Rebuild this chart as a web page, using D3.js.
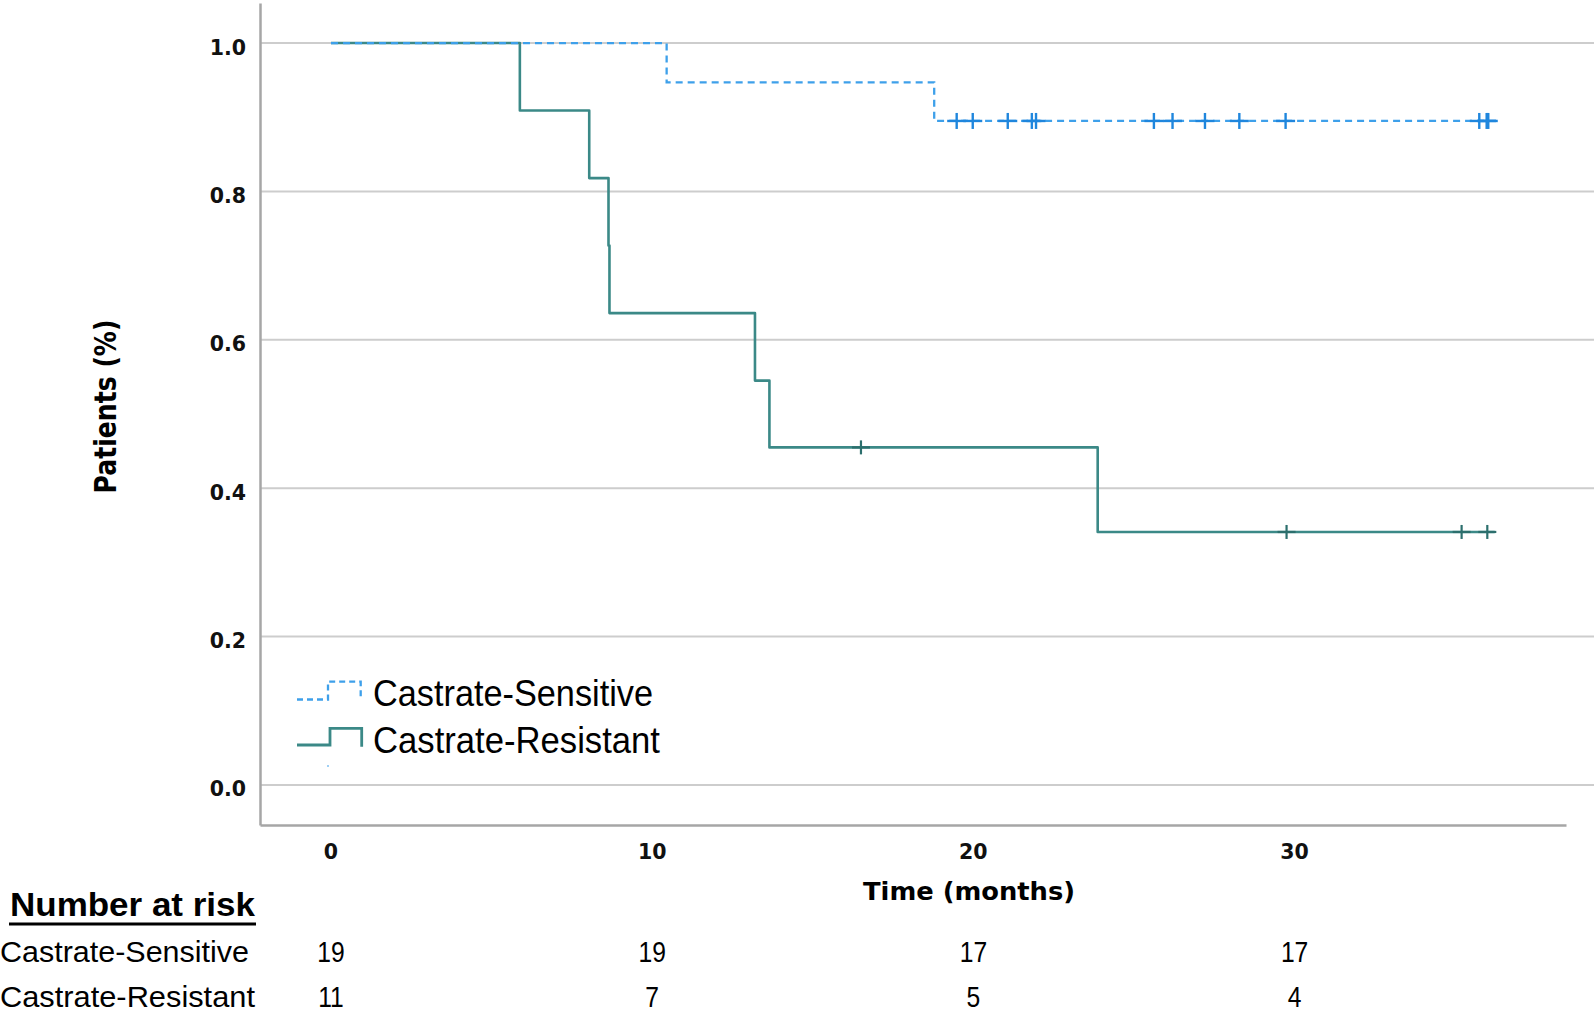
<!DOCTYPE html>
<html>
<head>
<meta charset="utf-8">
<script src="https://cdn.jsdelivr.net/npm/d3@7/dist/d3.min.js"></script>
<style>
  html, body { margin: 0; padding: 0; background: #ffffff; }
  svg { display: block; }
</style>
</head>
<body>
<svg id="chart" width="1594" height="1015"></svg>
<script>
// ---------------- DATA ----------------
const groupNames = ["Castrate-Sensitive", "Castrate-Resistant"];

const timeTicks = [0, 10, 20, 30];
const survivalTicks = [0.0, 0.2, 0.4, 0.6, 0.8, 1.0];
const survivalTickLabels = ["0.0", "0.2", "0.4", "0.6", "0.8", "1.0"];

// Castrate-Sensitive: event times (months) and survival after each event
const sensitiveEventTimes = [10.45, 18.78];
const sensitiveSurvival = [0.947, 0.895];
const sensitiveCensorTimes = [19.48, 19.98, 21.07, 21.82, 21.95, 25.62, 26.2, 27.21, 28.28, 29.72, 35.75, 35.98, 36.03];
const sensitiveEndTime = 36.29;

// Castrate-Resistant
const resistantEventTimes = [5.88, 8.04, 8.64, 8.67, 13.2, 13.65, 23.87];
const resistantSurvival = [0.909, 0.818, 0.727, 0.636, 0.545, 0.455, 0.341];
const resistantCensorTimes = [16.5, 29.75, 35.2, 36.0];
const resistantEndTime = 36.23;

// Number at risk
const riskTimes = [0, 10, 20, 30];
const sensitiveAtRisk = [19, 19, 17, 17];
const resistantAtRisk = [11, 7, 5, 4];

// ---------------- CHART ----------------
const svg = d3.select("#chart");
const colSens = "#3ea0ea";
const colSensMark = "#1f86dd";
const colRes = "#3b8987";
const colResMark = "#2c6f6d";

const x = d3.scaleLinear().domain([-2.21, 38.45]).range([260, 1566]);
const y = d3.scaleLinear().domain([-0.054, 1.054]).range([825, 3]);

// gridlines
svg.append("g").selectAll("line").data(survivalTicks).join("line")
  .attr("x1", x.range()[0]).attr("x2", 1594)
  .attr("y1", d => y(d)).attr("y2", d => y(d))
  .attr("stroke", "#cdcdcd").attr("stroke-width", 2);

// axes (lines only, no ticks)
const yAxis = d3.axisLeft(y).tickValues([]).tickSizeOuter(0);
svg.append("g").attr("transform", `translate(${x.range()[0]},0)`).call(yAxis)
  .call(g => g.select(".domain").attr("stroke", "#a6a6a6").attr("stroke-width", 2.5));
const xAxis = d3.axisBottom(x).tickValues([]).tickSizeOuter(0);
svg.append("g").attr("transform", `translate(0,${y.range()[0]})`).call(xAxis)
  .call(g => g.select(".domain").attr("stroke", "#a6a6a6").attr("stroke-width", 2.5));

// y tick labels
svg.append("g").selectAll("text").data(survivalTicks).join("text")
  .attr("x", 246).attr("y", d => y(d) + 11.5)
  .attr("text-anchor", "end")
  .attr("font-family", "DejaVu Sans").attr("font-weight", "bold")
  .attr("font-size", 20.5).attr("fill", "#111")
  .text((d, i) => survivalTickLabels[i]);

// x tick labels
svg.append("g").selectAll("text").data(timeTicks).join("text")
  .attr("x", d => x(d)).attr("y", 859)
  .attr("text-anchor", "middle")
  .attr("font-family", "DejaVu Sans").attr("font-weight", "bold")
  .attr("font-size", 20.5).attr("fill", "#111")
  .text(d => d);

// axis titles
svg.append("text")
  .attr("x", 969).attr("y", 900).attr("text-anchor", "middle")
  .attr("font-family", "DejaVu Sans").attr("font-weight", "bold")
  .attr("font-size", 25).attr("fill", "#000")
  .attr("textLength", 212).attr("lengthAdjust", "spacingAndGlyphs")
  .text("Time (months)");
svg.append("text")
  .attr("transform", "translate(116,406.5) rotate(-90)")
  .attr("text-anchor", "middle")
  .attr("font-family", "DejaVu Sans").attr("font-weight", "bold")
  .attr("font-size", 30).attr("fill", "#000")
  .attr("textLength", 174).attr("lengthAdjust", "spacingAndGlyphs")
  .text("Patients (%)");

// KM step curves
function kmPoints(times, surv, end) {
  const pts = [[0, 1]];
  times.forEach((t, i) => pts.push([t, surv[i]]));
  pts.push([end, surv[surv.length - 1]]);
  return pts;
}
function levelAt(times, surv, t) {
  let s = 1;
  times.forEach((et, i) => { if (et <= t) s = surv[i]; });
  return s;
}
const stepLine = d3.line().x(d => x(d[0])).y(d => y(d[1])).curve(d3.curveStepAfter);

// resistant first (underneath)
svg.append("path")
  .attr("d", stepLine(kmPoints(resistantEventTimes, resistantSurvival, resistantEndTime)))
  .attr("fill", "none").attr("stroke", colRes).attr("stroke-width", 2.6)
  .attr("stroke-linejoin", "round");

svg.append("path")
  .attr("d", stepLine(kmPoints(sensitiveEventTimes, sensitiveSurvival, sensitiveEndTime)))
  .attr("fill", "none").attr("stroke", colSens).attr("stroke-width", 2.3)
  .attr("stroke-dasharray", "7,5");

// censor marks
function censorMarks(times, evTimes, surv, color, hv, hh, sw) {
  const g = svg.append("g").attr("stroke", color).attr("stroke-width", sw);
  times.forEach(t => {
    const cx = x(t), cy = y(levelAt(evTimes, surv, t));
    g.append("line").attr("x1", cx).attr("x2", cx).attr("y1", cy - hv).attr("y2", cy + hv);
    g.append("line").attr("x1", cx - hh).attr("x2", cx + hh).attr("y1", cy).attr("y2", cy);
  });
}
censorMarks(sensitiveCensorTimes, sensitiveEventTimes, sensitiveSurvival, colSensMark, 8, 9.5, 2.4);
censorMarks(resistantCensorTimes, resistantEventTimes, resistantSurvival, colResMark, 7, 9, 2.2);

// legend
const legend = svg.append("g");
legend.append("path")
  .attr("d", "M297,699.5 H328 V681.7 H360.7 V700")
  .attr("fill", "none").attr("stroke", colSens).attr("stroke-width", 2.3)
  .attr("stroke-dasharray", "6,4");
legend.append("path")
  .attr("d", "M297,745 H330 V728.3 H361.7 V746.7")
  .attr("fill", "none").attr("stroke", colRes).attr("stroke-width", 2.8);
legend.append("rect").attr("x", 327).attr("y", 765).attr("width", 2).attr("height", 2).attr("fill", "#9fd0f5");
legend.append("text")
  .attr("x", 373).attr("y", 705.5)
  .attr("font-family", "Liberation Sans").attr("font-size", 36).attr("fill", "#000")
  .attr("textLength", 280).attr("lengthAdjust", "spacingAndGlyphs")
  .text(groupNames[0]);
legend.append("text")
  .attr("x", 373).attr("y", 753)
  .attr("font-family", "Liberation Sans").attr("font-size", 36).attr("fill", "#000")
  .attr("textLength", 287).attr("lengthAdjust", "spacingAndGlyphs")
  .text(groupNames[1]);

// Number at risk table
const risk = svg.append("g").attr("font-family", "Liberation Sans").attr("fill", "#000");
risk.append("text")
  .attr("x", 10).attr("y", 916)
  .attr("font-weight", "bold").attr("font-size", 34)
  .attr("textLength", 245).attr("lengthAdjust", "spacingAndGlyphs")
  .text("Number at risk");
risk.append("line").attr("x1", 9).attr("x2", 256).attr("y1", 924).attr("y2", 924)
  .attr("stroke", "#000").attr("stroke-width", 3);
risk.append("text")
  .attr("x", 0).attr("y", 962).attr("font-size", 30)
  .attr("textLength", 249).attr("lengthAdjust", "spacingAndGlyphs")
  .text(groupNames[0]);
risk.append("text")
  .attr("x", 0).attr("y", 1007).attr("font-size", 29)
  .attr("textLength", 255).attr("lengthAdjust", "spacingAndGlyphs")
  .text(groupNames[1]);
risk.append("g").selectAll("text").data(riskTimes).join("text")
  .attr("transform", d => `translate(${x(d)},962) scale(0.85,1)`)
  .attr("text-anchor", "middle").attr("font-size", 29)
  .text((d, i) => sensitiveAtRisk[i]);
risk.append("g").selectAll("text").data(riskTimes).join("text")
  .attr("transform", d => `translate(${x(d)},1007) scale(0.85,1)`)
  .attr("text-anchor", "middle").attr("font-size", 29)
  .text((d, i) => resistantAtRisk[i]);
</script>
</body>
</html>
